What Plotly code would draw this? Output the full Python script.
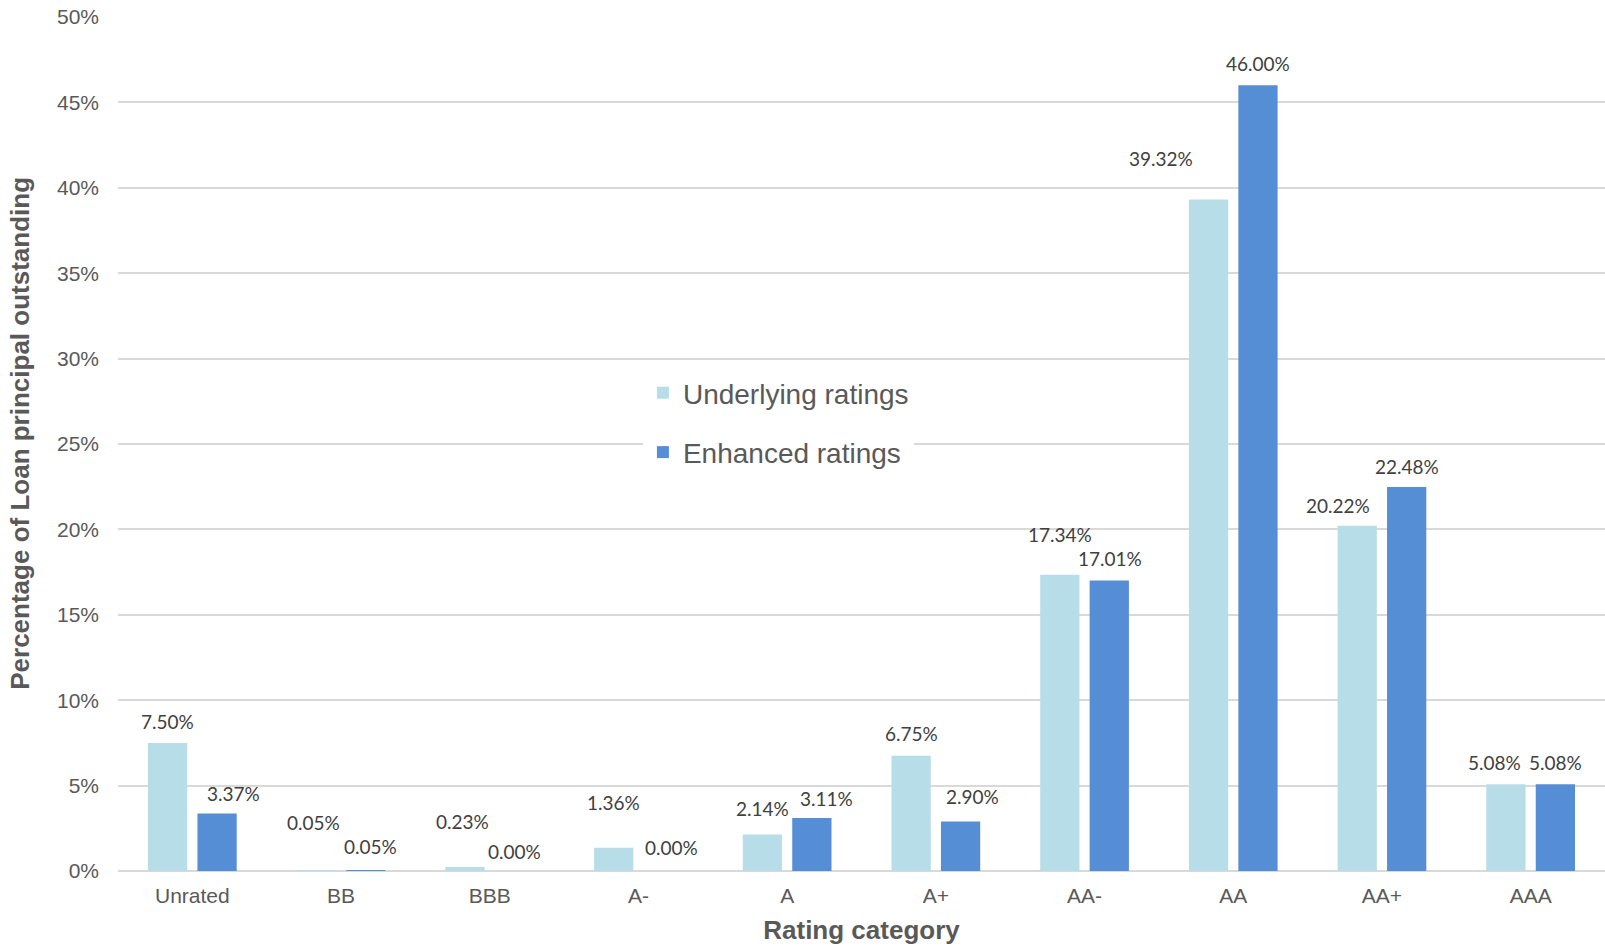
import plotly.graph_objects as go

categories = ["Unrated", "BB", "BBB", "A-", "A", "A+", "AA-", "AA", "AA+", "AAA"]
underlying = [7.50, 0.05, 0.23, 1.36, 2.14, 6.75, 17.34, 39.32, 20.22, 5.08]
enhanced = [3.37, 0.05, 0.00, 0.00, 3.11, 2.90, 17.01, 46.00, 22.48, 5.08]
y_ticks = [0, 5, 10, 15, 20, 25, 30, 35, 40, 45, 50]

# label placement offsets (pixels) relative to bar top-centre, as moved in the original
under_dx = [0, -3, -3, 0, 0, 0, 0, -48, -19, -11]
under_dy = [21, 48, 46, 45, 26, 22, 40, 41, 20, 22]
enh_dx = [16, 5, 0, 8, 15, 12, 1, 0, 0, 0]
enh_dy = [20, 24, 20, 24, 19, 25, 22, 22, 21, 22]

LIGHT = "#B7DEE8"
DARK = "#558ED5"
TXT = "#595959"
LBL = "#404040"
GRID = "#D9D9D9"

fig = go.Figure()
fig.add_trace(go.Bar(x=categories, y=underlying, name="Underlying ratings",
                     marker=dict(color=LIGHT, line=dict(width=0)), legendgroup="u"))
fig.add_trace(go.Bar(x=categories, y=enhanced, name="Enhanced ratings",
                     marker=dict(color=DARK, line=dict(width=0)), legendgroup="e"))

W, L, R = 1605, 118, 0
cat_w = (W - L - R) / len(categories)
bargap = 0.335
bargroupgap = 0.206
slot = cat_w * (1 - bargap) / 2

annotations = []
for i, c in enumerate(categories):
    for vals, dxs, dys, sgn in ((underlying, under_dx, under_dy, -1), (enhanced, enh_dx, enh_dy, 1)):
        annotations.append(dict(
            x=c, y=vals[i], xref="x", yref="y",
            text=f"{vals[i]:.2f}%", showarrow=False,
            xanchor="center", yanchor="middle",
            xshift=sgn * slot / 2 + dxs[i], yshift=dys[i],
            font=dict(family="Lato", size=19, color=LBL)))

annotations.append(dict(
    x=-0.066, y=0.513, xref="paper", yref="paper",
    text="<b>Percentage of Loan principal outstanding</b>", textangle=-90,
    showarrow=False, xanchor="center", yanchor="middle",
    font=dict(family="Liberation Sans", size=26, color=TXT)))

fig.update_layout(
    width=1605, height=947,
    margin=dict(l=L, r=R, t=17, b=76, autoexpand=False),
    paper_bgcolor="white", plot_bgcolor="white",
    barmode="group", bargap=bargap, bargroupgap=bargroupgap,
    font=dict(family="Liberation Sans", color=TXT),
    showlegend=True,
    legend=dict(x=0.353, y=0.589, xanchor="left", yanchor="top",
                bgcolor="white", borderwidth=0,
                font=dict(family="Liberation Sans", size=28, color=TXT),
                tracegroupgap=20, itemclick=False),
    annotations=annotations,
    xaxis=dict(
        type="category", showgrid=False, showline=False, ticks="",
        tickfont=dict(family="Liberation Sans", size=21, color=TXT),
        ticklabelstandoff=10,
        title=dict(text="<b>Rating category</b>", standoff=14,
                   font=dict(family="Liberation Sans", size=26, color=TXT)),
        automargin=False),
    yaxis=dict(
        range=[0, 50], tickvals=y_ticks, ticktext=[f"{v}%" for v in y_ticks],
        showgrid=True, gridcolor=GRID, gridwidth=1.6,
        zeroline=True, zerolinecolor=GRID, zerolinewidth=2,
        showline=False, ticks="",
        tickfont=dict(family="Liberation Sans", size=21, color=TXT),
        ticklabelstandoff=18, automargin=False),
)

fig.write_html("out.html")
